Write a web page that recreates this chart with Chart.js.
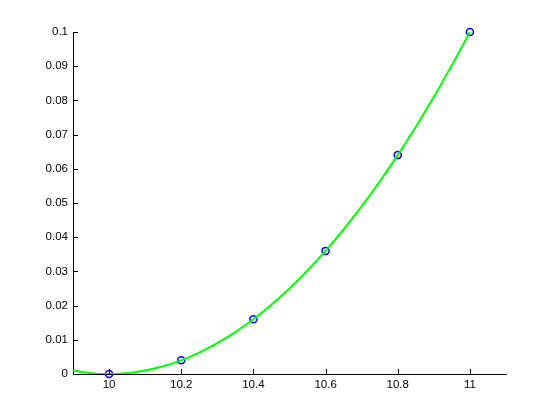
<!DOCTYPE html>
<html>
<head>
<meta charset="utf-8">
<script src="https://cdn.jsdelivr.net/npm/chart.js@4/dist/chart.umd.min.js"></script>
<style>
  html, body { margin: 0; padding: 0; background: #fff; }
  #wrap { width: 560px; height: 420px; }
</style>
</head>
<body>
<div id="wrap"><canvas id="plot" width="560" height="420"></canvas></div>
<script>
// sample points (blue circles)
const sampleX = [10, 10.2, 10.4, 10.6, 10.8, 11];
const sampleY = [0, 0.004, 0.016, 0.036, 0.064, 0.1];

// fitted curve
const curveX = [9.9, 9.95, 10, 10.05, 10.1, 10.15, 10.2, 10.25, 10.3, 10.35, 10.4, 10.45,
  10.5, 10.55, 10.6, 10.65, 10.7, 10.75, 10.8, 10.85, 10.9, 10.95, 11];
const curveY = [0.001, 0.00025, 0, 0.00025, 0.001, 0.00225, 0.004, 0.00625, 0.009, 0.01225,
  0.016, 0.02025, 0.025, 0.03025, 0.036, 0.04225, 0.049, 0.05625, 0.064, 0.07225, 0.081,
  0.09025, 0.1];

const xTicks = [10, 10.2, 10.4, 10.6, 10.8, 11];
const yTicks = [0, 0.01, 0.02, 0.03, 0.04, 0.05, 0.06, 0.07, 0.08, 0.09, 0.1];

const font = { family: "Arial, 'Liberation Sans', sans-serif", size: 11.5 };

// MATLAB style ticks pointing into the plot
const innerTicks = {
  id: "innerTicks",
  afterDraw(chart) {
    const ctx = chart.ctx;
    const xs = chart.scales.x, ys = chart.scales.y;
    const area = chart.chartArea;
    ctx.save();
    ctx.strokeStyle = "#000";
    ctx.lineWidth = 1;
    ctx.beginPath();
    xTicks.forEach(v => {
      const px = Math.round(xs.getPixelForValue(v)) + 0.5;
      ctx.moveTo(px, area.bottom);
      ctx.lineTo(px, area.bottom - 5);
    });
    yTicks.forEach(v => {
      const py = Math.round(ys.getPixelForValue(v)) + 0.5;
      ctx.moveTo(area.left, py);
      ctx.lineTo(area.left + 5, py);
    });
    ctx.stroke();
    ctx.restore();
  }
};

const ctx = document.getElementById("plot").getContext("2d");

new Chart(ctx, {
  type: "scatter",
  data: {
    datasets: [
      {
        label: "fit",
        data: curveX.map((x, i) => ({ x: x, y: curveY[i] })),
        showLine: true,
        borderColor: "#00ff00",
        borderWidth: 2,
        pointRadius: 0,
        cubicInterpolationMode: "monotone",
        order: 0
      },
      {
        label: "data",
        data: sampleX.map((x, i) => ({ x: x, y: sampleY[i] })),
        showLine: false,
        clip: false,
        pointStyle: "circle",
        pointRadius: 3.5,
        pointBorderWidth: 1.5,
        pointBorderColor: "#0000ff",
        pointBackgroundColor: "rgba(0,0,0,0)",
        order: 1
      }
    ]
  },
  options: {
    responsive: false,
    animation: false,
    layout: { padding: { left: 0, top: 32, right: 54, bottom: 0 } },
    plugins: {
      legend: { display: false },
      tooltip: { enabled: false }
    },
    scales: {
      x: {
        type: "linear",
        min: 9.9,
        max: 11.1,
        afterBuildTicks: (s) => { s.ticks = xTicks.map(v => ({ value: v })); },
        afterFit: (s) => { s.height = 46; },
        grid: { display: false, drawTicks: false },
        border: { display: true, color: "#000", width: 1 },
        ticks: {
          color: "#000",
          font: font,
          padding: 4,
          maxRotation: 0,
          callback: (v) => String(v)
        }
      },
      y: {
        type: "linear",
        min: 0,
        max: 0.1,
        afterBuildTicks: (s) => { s.ticks = yTicks.map(v => ({ value: v })); },
        afterFit: (s) => { s.width = 73; },
        grid: { display: false, drawTicks: false },
        border: { display: true, color: "#000", width: 1 },
        ticks: {
          color: "#000",
          font: font,
          padding: 5,
          callback: (v) => String(v)
        }
      }
    }
  },
  plugins: [innerTicks]
});
</script>
</body>
</html>
